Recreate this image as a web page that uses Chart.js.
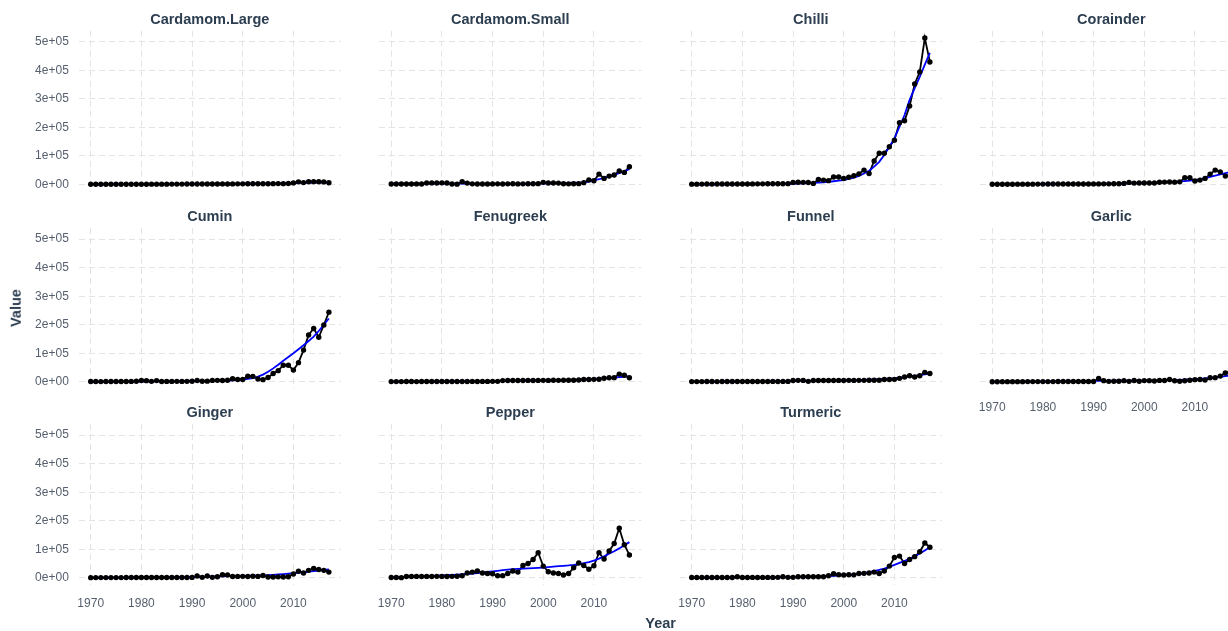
<!DOCTYPE html>
<html>
<head>
<meta charset="utf-8">
<title>Spice values by year</title>
<script src="https://cdn.jsdelivr.net/npm/chart.js@4.4.1/dist/chart.umd.min.js"></script>
<style>
  html, body { margin: 0; padding: 0; background: #ffffff; overflow: hidden; }
  #fig { position: relative; width: 1260px; height: 631px; font-family: "Liberation Sans", Arial, sans-serif; }
  #fig canvas { position: absolute; }
  .strip { position: absolute; transform: translate(-50%, -50%); font-weight: bold; font-size: 14.5px;
           line-height: 1; color: #2c3e50; white-space: nowrap; }
  .axis-title { position: absolute; font-weight: bold; font-size: 14.5px; line-height: 1; color: #2c3e50; white-space: nowrap; }
</style>
</head>
<body>
<div id="fig"></div>
<script>
// ---- data -------------------------------------------------------------
const years = [1970,1971,1972,1973,1974,1975,1976,1977,1978,1979,
               1980,1981,1982,1983,1984,1985,1986,1987,1988,1989,
               1990,1991,1992,1993,1994,1995,1996,1997,1998,1999,
               2000,2001,2002,2003,2004,2005,2006,2007,2008,2009,
               2010,2011,2012,2013,2014,2015,2016,2017];

const xTickValues = [1970, 1980, 1990, 2000, 2010];
const xTickLabels = ['1970', '1980', '1990', '2000', '2010'];
const yTickValues = [0, 100000, 200000, 300000, 400000, 500000];
const yTickLabels = ['0e+00', '1e+05', '2e+05', '3e+05', '4e+05', '5e+05'];

const panelNames = ['Cardamom.Large', 'Cardamom.Small', 'Chilli', 'Corainder',
                    'Cumin', 'Fenugreek', 'Funnel', 'Garlic',
                    'Ginger', 'Pepper', 'Turmeric'];

// observed values
const cardamomLarge = [350,410,380,460,520,490,560,610,580,650,
  720,690,760,830,800,870,940,910,1020,1100,
  1250,1180,1320,1400,1350,1500,1620,1580,1700,1850,
  1900,2050,1980,2200,2350,2300,2500,2700,2600,2900,
  5200,8800,6300,9100,9600,9400,8700,5600];
const cardamomSmall = [1100,1300,1200,1500,1400,1700,1600,4800,5200,4900,
  5300,5000,1500,800,9500,4500,1800,1500,1400,1600,
  1700,1900,1600,1800,2000,1700,1900,2100,2300,2500,
  7200,5000,4800,4500,2000,1800,2400,2600,6000,15200,
  12800,36000,21000,29000,33000,47000,42000,62000];
const chilli = [800,900,1000,1100,1000,1200,1300,1200,1400,1500,
  1600,1500,1700,1800,1900,2000,2100,2300,2200,2500,
  7000,7500,7200,6800,3500,17000,15000,13000,26000,26000,
  21000,25000,30000,37000,50000,38000,82000,109000,109000,132000,
  155000,216000,223000,275000,352000,394000,513000,429000];
const corainder = [500,600,550,700,650,800,750,900,850,1000,
  950,1100,1200,1150,1300,1250,1400,1500,1450,1600,
  1700,1650,1800,1900,2000,2100,3500,7000,4500,4800,
  4600,4900,5000,7500,8000,8200,7800,8800,23000,23000,
  12000,15000,21000,36000,50000,44000,29000,33000];
const cumin = [800,900,700,1000,900,1100,1200,1000,1300,2000,
  4500,4000,1500,4200,1200,1400,1300,1500,1400,1600,
  1700,4500,1800,2200,4800,5000,4700,5200,10500,8000,
  8200,19500,19000,10000,7500,15000,29000,39000,58000,58000,
  41000,67000,111000,164000,187000,156000,199000,244000];
const fenugreek = [600,700,650,800,750,700,900,850,800,950,
  900,1000,1100,1050,1200,1150,1300,1250,1400,1350,
  1500,1600,4200,4500,4400,4700,4600,4800,4500,4900,
  5000,4800,5200,5100,5300,5500,5400,6000,8000,8000,
  8500,9000,12500,14000,14500,27000,23000,14000];
const funnel = [600,700,650,750,800,700,850,900,800,950,
  1000,900,1100,1000,1200,1100,1300,1200,1400,1300,
  4500,5000,4800,1500,4300,4500,4700,4400,4600,4800,
  4700,5000,4900,5100,5000,5300,5200,5500,8000,7800,
  8500,12000,17000,21000,17000,21000,33000,29000];
const garlic = [300,350,400,380,450,500,480,550,600,580,
  650,700,680,750,800,850,900,950,1000,1100,
  1200,11500,4000,1500,1800,1700,4000,1500,4500,2000,
  4200,4000,2500,4800,4500,8000,3500,1800,3500,5500,
  7500,8000,6000,14000,14500,20000,31000,35000];
const ginger = [500,550,600,580,650,700,680,750,800,850,
  820,900,950,1000,980,1050,1100,1150,1200,1250,
  1300,6000,1500,6000,1500,3500,10500,10000,4500,4800,
  5000,4600,5200,4900,8000,3000,2800,3200,2500,3500,
  13000,23000,17000,26000,33000,29000,26000,20000];
const pepper = [1000,800,500,4700,4500,4800,4600,4900,4700,5000,
  4800,4600,5100,5200,7000,17000,20000,24000,17000,15000,
  14000,7000,7500,15000,24000,20000,43000,50000,64000,88000,
  41000,21000,17000,15000,10000,15000,35000,52000,43000,30000,
  42000,88000,66000,94000,120000,174000,116000,80000];
const turmeric = [800,850,900,950,1000,1050,1100,1000,1150,3500,
  1200,1250,1300,1200,1350,1400,1300,1450,3500,1500,
  1600,3500,3400,3600,3500,3700,3800,7000,14000,10500,
  10000,10500,10200,15000,15500,17000,20000,15000,24000,41000,
  71000,76000,50000,64000,74000,91000,122000,107000];

// loess trend per spice
const cardamomLargeFit = [-500,-200,100,300,500,650,800,900,1000,1100,
  1150,1200,1250,1300,1350,1400,1450,1500,1550,1600,
  1650,1700,1750,1800,1850,1900,1950,2000,2050,2100,
  2150,2200,2300,2400,2500,2650,2800,3000,3300,3600,
  4000,4500,5000,5600,6100,6600,7000,7300];
const cardamomSmallFit = [2500,2600,2700,2800,2900,3000,3000,3000,3000,2900,
  2800,2700,2600,2500,2400,2300,2200,2100,2000,1900,
  1900,1900,1900,2000,2000,2100,2200,2300,2500,2700,
  3000,3300,3700,4100,4600,5200,5900,6500,7000,10000,
  14000,18000,23000,28000,33000,39000,46000,53000];
const chilliFit = [-1500,-1200,-900,-700,-500,-300,-100,0,100,200,
  300,400,500,600,700,800,900,1100,1300,1500,
  2000,2600,3300,4100,5000,6000,7500,9000,11000,13000,
  15000,19000,24000,30000,38000,48000,62000,79000,103000,132000,
  161000,202000,243000,296000,337000,377000,420000,461000];
const corainderFit = [800,850,900,950,1000,1050,1100,1150,1200,1250,
  1300,1350,1400,1450,1500,1550,1600,1700,1800,1900,
  2000,2100,2200,2400,2600,2800,3000,3300,3600,4000,
  4400,4900,5500,6200,7000,8000,9000,10200,11600,13200,
  15000,18000,22000,26500,31000,35500,39500,43000];
const cuminFit = [-2000,-1500,-1000,-600,-300,0,200,400,600,800,
  900,1000,1100,1200,1300,1400,1500,1600,1800,2000,
  2200,2400,2600,2900,3200,3600,3800,4500,5400,6500,
  8000,10000,13000,18000,25000,35000,47000,60000,74000,87000,
  100000,114000,128000,143000,158000,178000,200000,222000];
const fenugreekFit = [200,300,400,500,600,700,800,900,1000,1100,
  1200,1300,1400,1600,1800,2000,2200,2400,2600,2800,
  3000,3200,3400,3600,3800,4000,4200,4400,4600,4800,
  5000,5300,5600,5900,6300,6700,7200,7800,8500,9300,
  10200,11200,12300,13500,14800,16200,17700,19300];
const funnelFit = [300,400,500,600,700,800,900,1000,1100,1200,
  1300,1400,1500,1600,1700,1900,2100,2300,2500,2700,
  2900,3100,3300,3500,3700,3900,4100,4300,4500,4800,
  5100,5400,5800,6200,6700,7300,8000,8900,10000,11300,
  12800,14500,16400,18500,20800,23300,26000,28900];
const garlicFit = [-500,-300,-100,100,300,500,700,900,1100,1300,
  1500,1700,1900,2100,2300,2500,2700,2900,3000,3100,
  3200,3300,3400,3500,3600,3700,3800,3900,4000,4100,
  4200,4400,4600,4900,5200,5600,6100,6700,7400,8300,
  9300,10500,11900,13500,15300,17300,19500,22000];
const gingerFit = [-800,-500,-200,100,300,500,700,900,1100,1300,
  1500,1700,1900,2100,2300,2500,2700,2900,3100,3300,
  3500,3700,4000,4300,4600,4900,5200,5500,5800,6100,
  6500,6900,7400,8000,8700,9500,10500,11700,13000,14500,
  16000,17700,19500,21500,23500,25500,27500,29000];
const pepperFit = [2000,2500,3000,3500,4200,4900,5600,6300,7000,7700,
  8400,9200,10000,11000,12000,13000,14500,16500,18500,20500,
  22500,24500,26500,28500,30000,31000,32000,33000,34000,35000,
  36000,37500,39000,40500,42000,43500,45500,48000,51000,55000,
  60000,67000,75000,84000,93000,103000,114000,125000];
const turmericFit = [-600,-400,-200,0,200,400,600,800,1000,1100,
  1200,1300,1400,1500,1600,1700,1800,1900,2000,2200,
  2500,2900,3300,3800,4300,4900,5500,6200,7000,8000,
  9000,10500,12000,14000,16500,19500,23000,27500,32500,38000,
  45000,52000,59000,67000,75000,85000,96000,107000];

const panelValues = [cardamomLarge, cardamomSmall, chilli, corainder, cumin, fenugreek,
                     funnel, garlic, ginger, pepper, turmeric];
const panelFits = [cardamomLargeFit, cardamomSmallFit, chilliFit, corainderFit, cuminFit, fenugreekFit,
                   funnelFit, garlicFit, gingerFit, pepperFit, turmericFit];

// ---- layout -----------------------------------------------------------
const NCOL = 4;
const PLOT_LEFT0 = 78.8, COL_STEP = 300.5, PLOT_W = 262;
const ROW_TOPS = [30.7, 228.1, 424.1], PLOT_H = 161;
const X_MIN = 1967.65, X_MAX = 2019.35;
const Y_MIN = -25650, Y_MAX = 538650;
const TICK_COLOR = '#555f6d';
const GRID_COLOR = '#e4e4e4';
const FONT = '"Liberation Sans", Arial, sans-serif';

const fig = document.getElementById('fig');

function addText(cls, text, x, y, extra) {
  const d = document.createElement('div');
  d.className = cls;
  d.textContent = text;
  d.style.left = x + 'px';
  d.style.top = y + 'px';
  if (extra) Object.assign(d.style, extra);
  fig.appendChild(d);
}

panelNames.forEach((name, i) => {
  const col = i % NCOL, row = Math.floor(i / NCOL);
  const plotLeft = PLOT_LEFT0 + col * COL_STEP;
  const plotTop = ROW_TOPS[row];
  const showY = col === 0;
  const showX = i + NCOL >= panelNames.length;

  const canvasLeft = Math.round(plotLeft - 76);
  const axisW = plotLeft - canvasLeft;
  const canvasTop = Math.round(plotTop - 10);
  const padTop = plotTop - canvasTop;
  const canvasW = Math.ceil(axisW + PLOT_W + 8);
  const canvasH = Math.ceil(padTop + PLOT_H + 34);
  const axisH = canvasH - padTop - PLOT_H;
  const padRight = canvasW - axisW - PLOT_W;

  const cv = document.createElement('canvas');
  cv.width = canvasW; cv.height = canvasH;
  cv.style.left = canvasLeft + 'px'; cv.style.top = canvasTop + 'px';
  cv.style.width = canvasW + 'px'; cv.style.height = canvasH + 'px';
  fig.appendChild(cv);

  addText('strip', name, plotLeft + PLOT_W / 2, plotTop - 12);

  const observed = years.map((yr, k) => ({ x: yr, y: panelValues[i][k] }));
  const trend = years.map((yr, k) => ({ x: yr, y: panelFits[i][k] }));

  // layers, bottom to top: connecting line, loess trend, yearly points
  new Chart(cv, {
    type: 'line',
    data: {
      datasets: [
        { label: name, data: observed, order: 2, borderColor: '#000000', borderWidth: 1.8,
          pointRadius: 0, fill: false, tension: 0 },
        { label: 'trend', data: trend, order: 1, borderColor: '#0000ff', borderWidth: 1.8,
          pointRadius: 0, fill: false, tension: 0 },
        { label: name + ' points', data: observed, order: 0, showLine: false,
          pointRadius: 2.7, pointBackgroundColor: '#000000', pointBorderWidth: 0 }
      ]
    },
    options: {
      responsive: false,
      animation: false,
      devicePixelRatio: 1,
      events: [],
      layout: { padding: { top: padTop, right: padRight, left: 0, bottom: 0 } },
      plugins: { legend: { display: false }, tooltip: { enabled: false }, title: { display: false } },
      scales: {
        x: {
          type: 'linear', min: X_MIN, max: X_MAX,
          grid: { color: GRID_COLOR, lineWidth: 1, drawTicks: false },
          border: { display: false, dash: [6, 4] },
          ticks: {
            display: showX, padding: 11, maxRotation: 0, autoSkip: false,
            color: TICK_COLOR, font: { family: FONT, size: 12 },
            callback: (v) => { const k = xTickValues.indexOf(v); return k >= 0 ? xTickLabels[k] : ''; }
          },
          afterBuildTicks: (s) => { s.ticks = xTickValues.map((v) => ({ value: v })); },
          afterFit: (s) => { s.height = axisH; s.paddingLeft = 0; s.paddingRight = 0; }
        },
        y: {
          type: 'linear', min: Y_MIN, max: Y_MAX,
          grid: { color: GRID_COLOR, lineWidth: 1, drawTicks: false },
          border: { display: false, dash: [6, 4] },
          ticks: {
            display: showY, padding: 10, autoSkip: false,
            color: TICK_COLOR, font: { family: FONT, size: 12 },
            callback: (v) => { const k = yTickValues.indexOf(v); return k >= 0 ? yTickLabels[k] : ''; }
          },
          afterBuildTicks: (s) => { s.ticks = yTickValues.map((v) => ({ value: v })); },
          afterFit: (s) => { s.width = axisW; s.paddingTop = 0; s.paddingBottom = 0; }
        }
      }
    }
  });
});

// axis titles
addText('axis-title', 'Year', 660.6, 623, { transform: 'translate(-50%, -50%)' });
addText('axis-title', 'Value', 16, 308, { transform: 'translate(-50%, -50%) rotate(-90deg)' });
</script>
</body>
</html>
